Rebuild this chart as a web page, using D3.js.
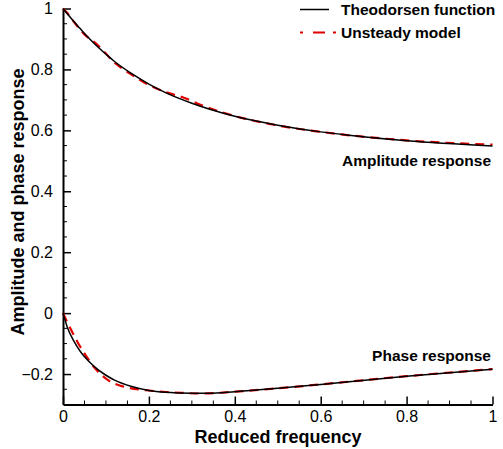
<!DOCTYPE html>
<html>
<head>
<meta charset="utf-8">
<script src="https://cdn.jsdelivr.net/npm/d3@7/dist/d3.min.js"></script>
<style>
  body { margin: 0; background: #fff; }
  text { font-family: Arial, "Liberation Sans", sans-serif; }
</style>
</head>
<body>
<div id="chart"></div>
<script>
// reduced frequency k and response curves
var kTheo = [0, 0.01, 0.025, 0.04, 0.05, 0.06, 0.08, 0.1, 0.12, 0.16, 0.2, 0.24, 0.3, 0.34, 0.4, 0.5, 0.6, 0.66, 0.8, 1.0];
var ampTheo = [1, 0.983, 0.958, 0.934, 0.918, 0.903, 0.875, 0.850, 0.826, 0.786, 0.752, 0.723, 0.689, 0.670, 0.646, 0.617, 0.595, 0.585, 0.566, 0.549];
var phaseTheo = [0, -0.046, -0.091, -0.125, -0.143, -0.158, -0.184, -0.204, -0.220, -0.241, -0.254, -0.260, -0.263, -0.263, -0.258, -0.247, -0.234, -0.226, -0.207, -0.184];

var kModel = [0, 0.01, 0.02, 0.035, 0.05, 0.075, 0.1, 0.113, 0.135, 0.156, 0.2, 0.24, 0.28, 0.32, 0.4, 0.5, 0.6, 0.8, 1.0];
var ampModel = [1, 0.985, 0.966, 0.939, 0.915, 0.887, 0.852, 0.831, 0.806, 0.786, 0.749, 0.725, 0.708, 0.684, 0.647, 0.616, 0.595, 0.567, 0.553];
var phaseModel = [0, -0.03, -0.058, -0.098, -0.132, -0.182, -0.215, -0.227, -0.239, -0.246, -0.254, -0.259, -0.262, -0.264, -0.258, -0.247, -0.234, -0.207, -0.184];

var xTicks = [0, 0.2, 0.4, 0.6, 0.8, 1];
var yTicks = [-0.2, 0, 0.2, 0.4, 0.6, 0.8, 1];
var legendNames = ["Theodorsen function", "Unsteady model"];

var W = 503, H = 449;
var svg = d3.select("#chart").append("svg").attr("width", W).attr("height", H);

var x = d3.scaleLinear().domain([0, 1]).range([63, 492.5]);
var y = d3.scaleLinear().domain([-0.3, 1]).range([404.5, 8.5]);

var fmt = function(d) { return d === 0 ? "0" : d === 1 ? "1" : d3.format(".1f")(d); };

// minor ticks every 0.05
var isMinor = function(d){ return Math.abs(d * 5 - Math.round(d * 5)) > 1e-6; };
var xMinor = d3.range(0, 1.0001, 0.05).filter(isMinor);
var yMinor = d3.range(-0.3, 1.0001, 0.05).filter(isMinor);

var xAxis = d3.axisBottom(x).tickValues(xTicks).tickFormat(fmt).tickSizeInner(-8).tickSizeOuter(0).tickPadding(6);
var yAxis = d3.axisLeft(y).tickValues(yTicks).tickFormat(fmt).tickSizeInner(-8).tickSizeOuter(0).tickPadding(10);

svg.append("g").selectAll("line").data(xMinor).enter().append("line")
  .attr("x1", function(d){ return x(d); }).attr("x2", function(d){ return x(d); })
  .attr("y1", y(-0.3)).attr("y2", y(-0.3) - 4)
  .attr("stroke", "#000").attr("stroke-width", 1);
svg.append("g").selectAll("line").data(yMinor).enter().append("line")
  .attr("x1", x(0)).attr("x2", x(0) + 4)
  .attr("y1", function(d){ return y(d); }).attr("y2", function(d){ return y(d); })
  .attr("stroke", "#000").attr("stroke-width", 1);

var gx = svg.append("g").attr("transform", "translate(0," + y(-0.3) + ")").call(xAxis);
var gy = svg.append("g").attr("transform", "translate(" + x(0) + ",0)").call(yAxis);

[gx, gy].forEach(function(g) {
  g.select(".domain").attr("stroke", "#000").attr("stroke-width", 2);
  g.selectAll(".tick line").attr("stroke", "#000").attr("stroke-width", 1.5);
  g.selectAll(".tick text").attr("font-size", 16).attr("fill", "#000")
    .attr("font-family", "Arial, 'Liberation Sans', sans-serif");
});

var line = d3.line().curve(d3.curveMonotoneX);

var theoPts = function(vals) { return kTheo.map(function(k, i){ return [x(k), y(vals[i])]; }); };
var modelPts = function(vals) { return kModel.map(function(k, i){ return [x(k), y(vals[i])]; }); };

[ampModel, phaseModel].forEach(function(v) {
  svg.append("path").attr("d", line(modelPts(v)))
    .attr("fill", "none").attr("stroke", "#e00000").attr("stroke-width", 2.2)
    .attr("stroke-dasharray", "9,6");
});
[ampTheo, phaseTheo].forEach(function(v) {
  svg.append("path").attr("d", line(theoPts(v)))
    .attr("fill", "none").attr("stroke", "#000").attr("stroke-width", 1.5);
});

// legend
var leg = svg.append("g");
leg.append("line").attr("x1", 300).attr("x2", 329).attr("y1", 9.5).attr("y2", 9.5)
  .attr("stroke", "#000").attr("stroke-width", 1.5);
leg.append("line").attr("x1", 300).attr("x2", 337).attr("y1", 32.5).attr("y2", 32.5)
  .attr("stroke", "#e00000").attr("stroke-width", 2.2).attr("stroke-dasharray", "3,10,12,8,3");
leg.selectAll("text").data(legendNames).enter().append("text")
  .attr("x", 341).attr("y", function(d, i){ return 15 + i * 23; })
  .attr("font-size", 15.5).attr("font-weight", "bold").text(function(d){ return d; });

// curve annotations
svg.append("text").attr("x", 491).attr("y", 166).attr("text-anchor", "end")
  .attr("font-size", 15.5).attr("font-weight", "bold").text("Amplitude response");
svg.append("text").attr("x", 491).attr("y", 361).attr("text-anchor", "end")
  .attr("font-size", 15.5).attr("font-weight", "bold").text("Phase response");

// axis titles
svg.append("text").attr("x", 278).attr("y", 443).attr("text-anchor", "middle")
  .attr("font-size", 18).attr("font-weight", "bold").text("Reduced frequency");
svg.append("text").attr("transform", "translate(24,202) rotate(-90)").attr("text-anchor", "middle")
  .attr("font-size", 18).attr("font-weight", "bold").text("Amplitude and phase response");
</script>
</body>
</html>
